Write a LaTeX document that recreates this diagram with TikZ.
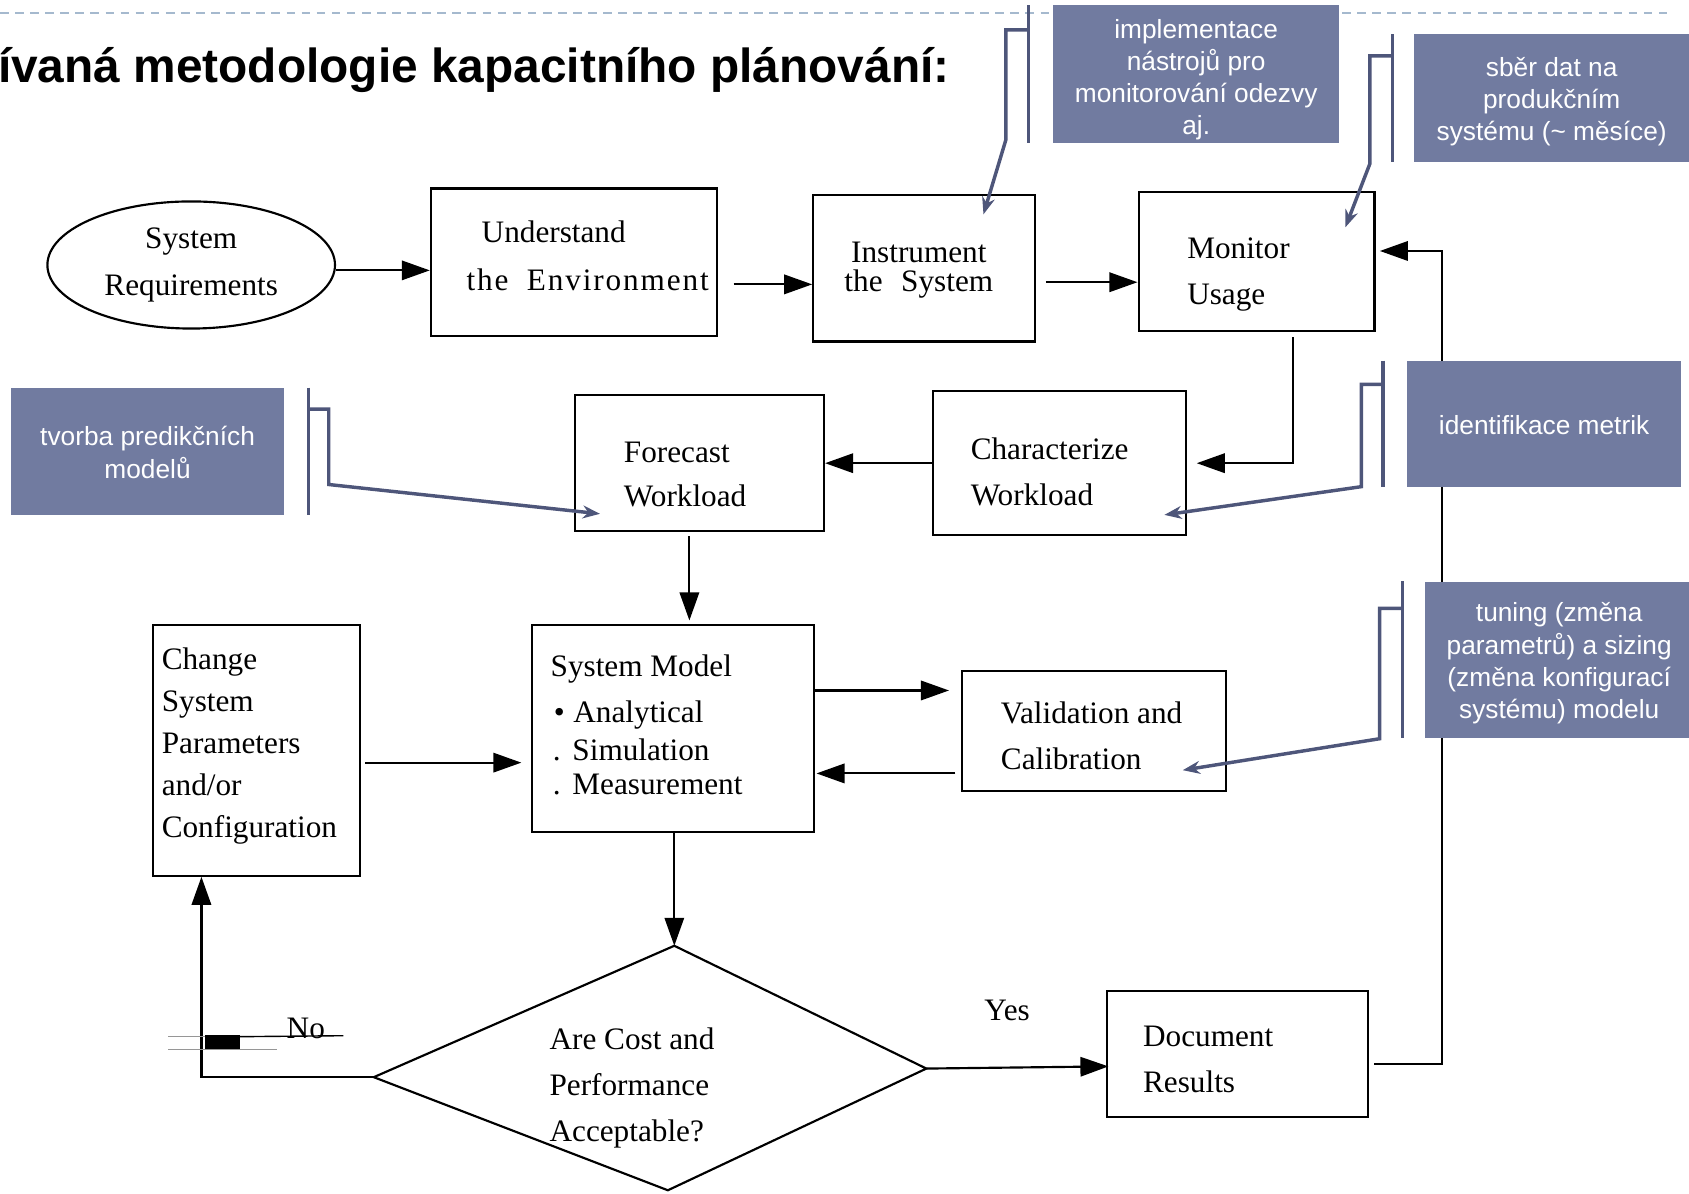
\documentclass[tikz,border=0pt]{standalone}
\usepackage{fontspec}
\setmainfont{Liberation Serif}
\newfontfamily\calloutsans{Liberation Sans}
\usetikzlibrary{arrows.meta,shapes.geometric,calc,fit}
\definecolor{calloutfill}{RGB}{113,123,160}
\definecolor{calloutline}{RGB}{78,86,122}
\definecolor{rulegray}{RGB}{165,185,206}
\definecolor{scangray}{RGB}{150,150,150}
\newcommand\flowfont[1]{\fontsize{29}{#1}\selectfont}

\begin{document}
\begin{tikzpicture}[x=1pt,y=-1pt,
  box/.style={draw,line width=2pt,inner sep=0pt},
  lbl/.style={inner sep=0pt,align=left,anchor=west},
  flow/.style={line width=2pt,-{Triangle[length=26pt,width=18pt]}},
  callout/.style={fill=calloutfill,inner sep=0pt},
  callouttext/.style={text=white,inner sep=0pt,align=center,
    font=\calloutsans\fontsize{24.4}{30}\selectfont},
  bar/.style={draw=calloutline,line width=3.2pt},
  pointer/.style={draw=calloutline,line width=3.2pt,line join=miter,
    -{Stealth[length=16pt,width=12pt]}},
]
\path[use as bounding box] (0,0) rectangle (1568,1108);

% header rule and title
\draw[rulegray,line width=1.5pt,dash pattern=on 8pt off 6pt] (0,12) -- (1548,12);
\node[anchor=base west,inner sep=0pt,
  font=\calloutsans\bfseries\fontsize{44.4}{50}\selectfont] (title) at (-2,77)
  {ívaná metodologie kapacitního plánování:};

% flowchart blocks
\node[draw,ellipse,line width=2pt,inner sep=0pt,minimum width=267pt,
  minimum height=118pt,align=center,font=\flowfont{43}] (req) at (177.5,246)
  {System\\Requirements};
\node[box,fit={(400,175) (666,312)}] (env) {};
\node[box,fit={(755,181) (961,317)}] (instr) {};
\node[box,fit={(1057,178) (1276,307)}] (mon) {};
\node[box,fit={(534,367) (765,493)}] (fore) {};
\node[box,fit={(866,363) (1101,497)}] (char) {};
\node[box,fit={(494,580) (756,772)}] (sm) {};
\node[box,fit={(893,623) (1138,734)}] (val) {};
\node[box,fit={(142,580) (334,813)}] (chg) {};
\node[box,fit={(1028,920) (1270,1037)}] (doc) {};

% decision diamond
\coordinate (dtop) at (626,878);
\coordinate (dright) at (860,992);
\coordinate (dbot) at (620,1105);
\coordinate (dleft) at (347,1000);
\draw[line width=2pt,line join=miter] (dtop) -- (dright) -- (dbot) -- (dleft) -- cycle;

% block texts
\node[lbl,font=\flowfont{45}] (envt) at (433,237.5)
  {\hspace*{14pt}Understand\\{\addfontfeature{LetterSpace=6}the\hspace{8pt} Environment}};
\node[lbl,font=\flowfont{27},align=center,anchor=center] (instrt) at (853,250.5)
  {Instrument\\the\hspace{10pt} System};
\node[lbl,font=\flowfont{43}] (mont) at (1102,255) {Monitor\\Usage};
\node[lbl,font=\flowfont{41}] (foret) at (579,440.5) {Forecast\\Workload};
\node[lbl,font=\flowfont{42}] (chart) at (901,438) {Characterize\\Workload};
\node[lbl,font=\flowfont{35}] (smt) at (511,673)
  {System Model\\[8pt]\hspace*{3pt}\textbullet\hspace{8pt}Analytical\\
   \hspace*{2pt}.\hspace{11pt}Simulation\\[-3pt]\hspace*{2pt}.\hspace{11pt}Measurement};
\node[lbl,font=\flowfont{43}] (valt) at (929,683) {Validation and\\Calibration};
\node[lbl,font=\flowfont{39}] (chgt) at (150,692.4)
  {Change\\System\\Parameters\\and/or\\Configuration};
\node[lbl,font=\flowfont{43}] (dect) at (510,1010)
  {Are Cost and\\Performance\\Acceptable?};
\node[lbl,font=\flowfont{43}] (doct) at (1061,983.5) {Document\\Results};
\node[inner sep=0pt,font=\flowfont{35}] (yes) at (935,938) {Yes};
\node[anchor=base west,inner sep=0pt,font=\flowfont{35}] (no) at (266,963.8) {No};

% flow connectors
\draw[flow] ($(req.east)+(0,5)$) -- ($(env.west)+(0,7.5)$);
\draw[flow] ($(env.east)+(14,20.5)$) -- ($(instr.west)+(0,15)$);
\draw[flow] ($(instr.east)+(9,13)$) -- ($(mon.west)+(0,19.5)$);
\draw[flow] ($(mon.south)+(33.5,5)$) |- ($(char.east)+(9,0)$);
\draw[flow] (char.west) -- (fore.east);
\draw[flow] ($(fore.south)+(-9.5,4)$) -- ($(sm.north)+(15,-3)$);
\draw[flow] ($(sm.east)+(0,-35)$) -- ($(val.west)+(-11,-37.5)$);
\draw[flow] ($(val.west)+(-5,39.5)$) -- ($(sm.east)+(1,42)$);
\draw[flow] ($(chg.east)+(4,11.5)$) -- ($(sm.west)+(-9,32)$);
\draw[flow] ($(sm.south)+(1,0)$) -- (dtop);
\draw[flow] (dright) -- ($(doc.west)+(2,11.5)$);
\draw[flow] (dleft) -| ($(chg.south)+(-51,0)$);
\draw[flow] ($(doc.east)+(5,9.5)$) -| ($(mon.east)+(62,-9.5)$) -- ($(mon.east)+(4,-9.5)$);

% marks beside the "No" branch
\draw[scangray,line width=1.2pt] (156,962.4) -- (190,962.4);
\draw[scangray,line width=1.2pt] (156,974) -- (257,974);
\fill (190,961) rectangle (223,973.5);
\draw[line width=1.3pt] (223,962.4) -- (318.7,961.5);

% targets of the annotation pointers
\coordinate (tA) at ($(instr.north east)+(-49,19)$);
\coordinate (tB) at ($(mon.north east)+(-28,34)$);
\coordinate (tC) at ($(fore.south west)+(24,-17)$);
\coordinate (tD) at ($(char.south east)+(-21,-20)$);
\coordinate (tE) at ($(val.south east)+(-41,-20)$);

% annotations
\node[callout,minimum width=265pt,minimum height=128pt] (cA) at (1110.5,69) {};
\node[callouttext] (cAt) at ($(cA.center)+(0,5)$)
  {implementace\\nástrojů pro\\monitorování odezvy\\aj.};
\draw[bar] ($(cA.north west)+(-23,0)$) -- ($(cA.south west)+(-23,0)$);
\draw[pointer] ($(cA.north west)+(-23,23)$) -- ++(-21,0) -- ++(0,102) -- (tA);

\node[callout,minimum width=255pt,minimum height=118pt] (cB) at (1440.5,91) {};
\node[callouttext] (cBt) at ($(cB.center)+(0,3.5)$)
  {sběr dat na\\produkčním\\systému (\textasciitilde{} měsíce)};
\draw[bar] ($(cB.north west)+(-20,0)$) -- ($(cB.south west)+(-20,0)$);
\draw[pointer] ($(cB.north west)+(-20,20)$) -- ++(-21,0) -- ++(0,100) -- (tB);

\node[callout,minimum width=254pt,minimum height=118pt] (cC) at (137,419) {};
\node[callouttext] (cCt) at ($(cC.center)+(0,1)$) {tvorba predikčních\\modelů};
\draw[bar] ($(cC.north east)+(22,0)$) -- ($(cC.south east)+(22,0)$);
\draw[pointer] ($(cC.north east)+(22,20)$) -- ++(19,0) -- ++(0,70) -- (tC);

\node[callout,minimum width=255pt,minimum height=117pt] (cD) at (1433.5,393.5) {};
\node[callouttext] (cDt) at ($(cD.center)+(0,1)$) {identifikace metrik};
\draw[bar] ($(cD.north west)+(-22,0)$) -- ($(cD.south west)+(-22,0)$);
\draw[pointer] ($(cD.north west)+(-22,22)$) -- ++(-20,0) -- ++(0,95) -- (tD);

\node[callout,minimum width=245pt,minimum height=145pt] (cE) at (1445.5,612.5) {};
\node[callouttext] (cEt) at ($(cE.center)+(2,3.5)$)
  {tuning (změna\\parametrů) a sizing\\(změna konfigurací\\systému) modelu};
\draw[bar] ($(cE.north west)+(-21,0)$) -- ($(cE.south west)+(-21,0)$);
\draw[pointer] ($(cE.north west)+(-21,25)$) -- ++(-21,0) -- ++(0,121) -- (tE);
\end{tikzpicture}
\end{document}
